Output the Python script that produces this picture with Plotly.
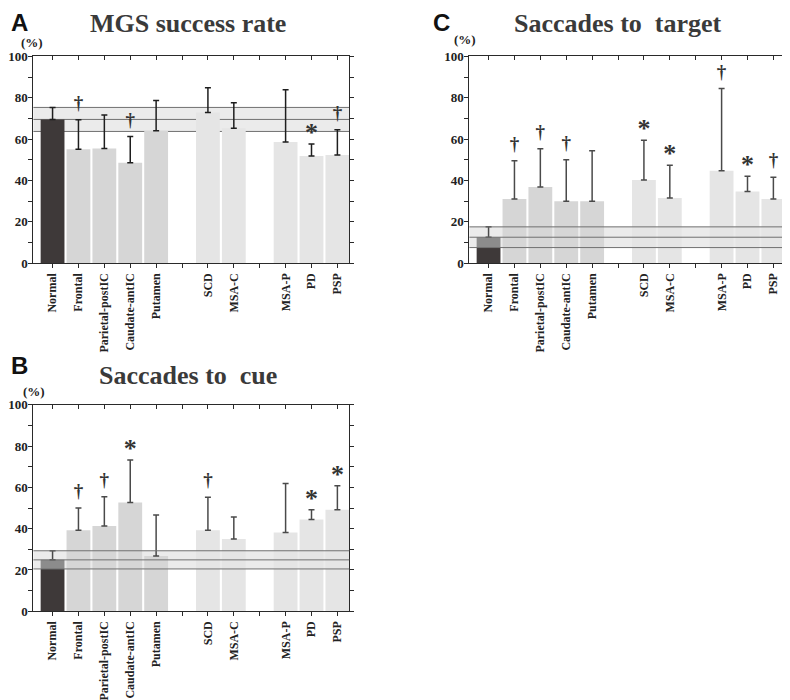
import plotly.graph_objects as go

# ---------------- data ----------------
categories = ["Normal", "Frontal", "Parietal-postIC", "Caudate-antIC", "Putamen",
              "SCD", "MSA-C", "MSA-P", "PD", "PSP"]
group_sizes = [5, 2, 3]

mgs_mean = [69.5, 55.1, 55.5, 48.6, 64.0, 72.9, 65.2, 58.6, 51.8, 52.3]
mgs_sd = [5.8, 14.2, 16.2, 12.7, 14.7, 11.9, 12.3, 25.2, 5.8, 12.2]
mgs_sig = ["", "†", "", "†", "", "", "", "", "*", "†"]

cue_mean = [24.9, 39.2, 41.3, 52.7, 26.8, 39.2, 35.0, 38.2, 44.4, 49.2]
cue_sd = [4.4, 10.8, 14.2, 20.5, 19.8, 16.0, 10.6, 23.6, 4.8, 11.6]
cue_sig = ["", "†", "†", "*", "", "†", "", "", "*", "*"]

target_mean = [12.6, 31.1, 36.9, 30.0, 30.0, 40.3, 31.6, 44.7, 34.7, 31.1]
target_sd = [5.0, 18.4, 18.4, 20.0, 24.4, 19.2, 15.8, 39.7, 7.4, 10.5]
target_sig = ["", "†", "†", "†", "", "*", "*", "†", "*", "†"]

y_ticks = [0, 20, 40, 60, 80, 100]
y_minor = [10, 30, 50, 70, 90]

# ---------------- style ----------------
SERIF = "Liberation Serif"
SANS = "Liberation Sans"
DARK = "#3e3939"
MID = "#8c8c8c"
LIGHT1 = "#d6d6d6"
LIGHT2 = "#e5e5e5"
BAND = "#ebebeb"
BAND_LINE = "#707070"
AXIS = "#2a2a2a"

# slot positions (one empty slot between groups)
positions = []
p = 0
group_of = []
for gi, n in enumerate(group_sizes):
    for _ in range(n):
        positions.append(p)
        group_of.append(gi)
        p += 1
    p += 1
n_slots = positions[-1] + 1
tickvals = list(range(n_slots))
ticktext = [categories[positions.index(t)] if t in positions else "" for t in tickvals]
bar_colors = [LIGHT1 if g == 0 else LIGHT2 for g in group_of]
XR = [-0.74, 11.46]

# the page places the figure 8px in from the top-left corner
OFF = 8
W, H = 790 - OFF, 700 - OFF

panels = [
    dict(mean=mgs_mean, sd=mgs_sd, sig=mgs_sig, title="MGS success rate", letter="A",
         dx=[33.4, 349.3], dy=[56.3, 263.3], err="#1e1e1e", split=False, lines_layer="below",
         tx=188, ty=23, lx=10, ly=OFF, lanchor="top", px=32, py=42),
    dict(mean=cue_mean, sd=cue_sd, sig=cue_sig, title="Saccades to\u00a0\u00a0cue", letter="B",
         dx=[33.4, 349.3], dy=[404.7, 611.3], err="#4a4a4a", split=True, lines_layer="above",
         tx=188, ty=376, lx=10, ly=365, lanchor="middle", px=34, py=392),
    dict(mean=target_mean, sd=target_sd, sig=target_sig, title="Saccades to\u00a0\u00a0target",
         letter="C", dx=[469.4, 785.3], dy=[56.3, 263.3], err="#4a4a4a", split=True,
         lines_layer="above", tx=618, ty=23, lx=432, ly=OFF, lanchor="top", px=465, py=39),
]


def px_x(v):
    return (v - OFF) / W


def px_y(v):
    return 1 - (v - OFF) / H


fig = go.Figure()
shapes = []
annotations = []
layout_axes = {}

for i, pn in enumerate(panels, start=1):
    xa, ya = ("x" if i == 1 else f"x{i}"), ("y" if i == 1 else f"y{i}")
    xo = f"x{i + 3}"
    mean, sd = pn["mean"], pn["sd"]

    # lesion / disease bars
    fig.add_trace(go.Bar(
        x=positions[1:], y=mean[1:], width=0.92, xaxis=xa, yaxis=ya,
        marker=dict(color=bar_colors[1:], line=dict(width=0)),
        error_y=dict(type="data", array=sd[1:], arrayminus=[0] * (len(sd) - 1), symmetric=False,
                     color=pn["err"], thickness=1.5, width=3),
        hoverinfo="skip", showlegend=False))

    # normal bar
    if pn["split"]:
        low = mean[0] - sd[0]
        fig.add_trace(go.Bar(x=[positions[0]], y=[low], width=0.92, xaxis=xa, yaxis=ya,
                             marker=dict(color=DARK, line=dict(width=0)),
                             hoverinfo="skip", showlegend=False))
        fig.add_trace(go.Bar(x=[positions[0]], y=[sd[0]], base=[low], width=0.92, xaxis=xa, yaxis=ya,
                             marker=dict(color=MID, line=dict(width=0)),
                             error_y=dict(type="data", array=[sd[0]], arrayminus=[0], symmetric=False,
                                          color=pn["err"], thickness=1.5, width=3),
                             hoverinfo="skip", showlegend=False))
    else:
        fig.add_trace(go.Bar(x=[positions[0]], y=[mean[0]], width=0.92, xaxis=xa, yaxis=ya,
                             marker=dict(color=DARK, line=dict(width=0)),
                             error_y=dict(type="data", array=[sd[0]], arrayminus=[0], symmetric=False,
                                          color=pn["err"], thickness=1.5, width=3),
                             hoverinfo="skip", showlegend=False))

    # significance markers
    sx, sy, st, ss = [], [], [], []
    for k, s in enumerate(pn["sig"]):
        if s:
            sx.append(positions[k])
            sy.append(mean[k] + sd[k] + (7.5 if s == "†" else 4.5))
            st.append(s)
            ss.append(19 if s == "†" else 26)
    fig.add_trace(go.Scatter(x=sx, y=sy, text=st, mode="text", xaxis=xo, yaxis=ya,
                             textposition="middle center",
                             textfont=dict(family=SERIF, size=ss, color="#333333", weight="bold"),
                             hoverinfo="skip", showlegend=False))

    # normal band
    m0, s0 = mean[0], sd[0]
    shapes.append(dict(type="rect", xref=f"{xa} domain", yref=ya, x0=0, x1=1,
                       y0=m0 - s0, y1=m0 + s0, fillcolor=BAND, line=dict(width=0), layer="below"))
    for yv in (m0 - s0, m0, m0 + s0):
        shapes.append(dict(type="line", xref=f"{xa} domain", yref=ya, x0=0, x1=1, y0=yv, y1=yv,
                           line=dict(color=BAND_LINE, width=1), layer=pn["lines_layer"]))

    dx = [px_x(pn["dx"][0]), px_x(pn["dx"][1])]
    dy = [px_y(pn["dy"][1]), px_y(pn["dy"][0])]
    xkey = "xaxis" if i == 1 else f"xaxis{i}"
    ykey = "yaxis" if i == 1 else f"yaxis{i}"
    layout_axes[xkey] = dict(
        domain=dx, anchor=ya, range=XR, tickmode="array", tickvals=tickvals, ticktext=ticktext,
        tickangle=-90, ticks="outside", ticklen=4, tickwidth=1, tickcolor=AXIS,
        showline=True, linecolor=AXIS, linewidth=1.3, mirror=True, automargin=False,
        showgrid=False, zeroline=False, fixedrange=True,
        tickfont=dict(family=SERIF, size=12, color="#222222", weight="bold"))
    layout_axes[f"xaxis{i + 3}"] = dict(
        overlaying=xa, anchor=ya, side="top", range=XR, tickmode="array", tickvals=tickvals,
        ticks="inside", ticklen=4, tickwidth=1, tickcolor=AXIS, showticklabels=False,
        showline=False, showgrid=False, zeroline=False, fixedrange=True, automargin=False)
    layout_axes[ykey] = dict(
        domain=dy, anchor=xa, range=[0, 100], tickmode="array", tickvals=y_ticks,
        ticks="outside", ticklen=4, tickwidth=1, tickcolor=AXIS, ticklabelstandoff=-2,
        minor=dict(tickmode="array", tickvals=y_minor, ticks="outside", ticklen=3, tickcolor=AXIS),
        showline=True, linecolor=AXIS, linewidth=1.3, mirror="allticks", automargin=False,
        showgrid=False, zeroline=False, fixedrange=True,
        tickfont=dict(family=SERIF, size=13, color="#222222", weight="bold"))

    annotations.append(dict(text=pn["title"], xref="paper", yref="paper", x=px_x(pn["tx"]),
                            y=px_y(pn["ty"]), xanchor="center", yanchor="middle", showarrow=False,
                            font=dict(family=SERIF, size=26, color="#3a3a3a", weight="bold")))
    annotations.append(dict(text=pn["letter"], xref="paper", yref="paper", x=px_x(pn["lx"]),
                            y=px_y(pn["ly"]), xanchor="left", yanchor=pn["lanchor"], showarrow=False,
                            borderpad=0,
                            font=dict(family=SANS, size=24, color="#111111", weight="bold")))
    annotations.append(dict(text="(%)", xref="paper", yref="paper", x=px_x(pn["px"]),
                            y=px_y(pn["py"]), xanchor="center", yanchor="middle", showarrow=False,
                            font=dict(family=SERIF, size=13, color="#222222", weight="bold")))

fig.update_layout(
    template="none",
    width=W, height=H, margin=dict(l=0, r=0, t=0, b=0, autoexpand=False),
    paper_bgcolor="white", plot_bgcolor="white",
    barmode="overlay", showlegend=False,
    shapes=shapes, annotations=annotations, **layout_axes)

fig.write_html("out.html")
